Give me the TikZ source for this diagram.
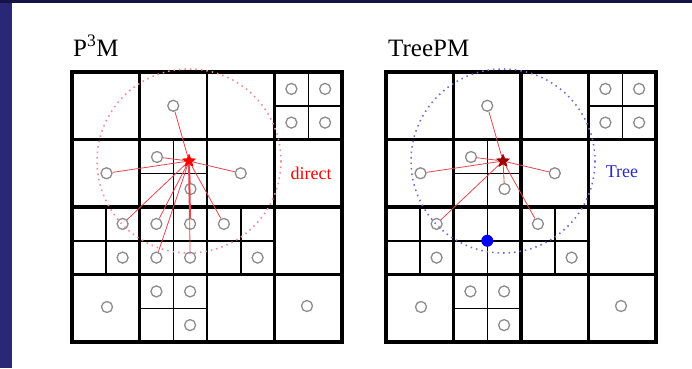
\documentclass[tikz,border=0pt]{standalone}
\usepackage{fontspec}
\setmainfont{Liberation Serif}
\usetikzlibrary{shapes.geometric}
\definecolor{bgblue}{RGB}{42,40,118}
\definecolor{topnavy}{RGB}{20,18,70}
\definecolor{partgray}{RGB}{140,140,140}
\definecolor{linkred}{RGB}{228,70,80}
\definecolor{cutred}{RGB}{240,140,150}
\definecolor{cutblue}{RGB}{110,110,215}
\definecolor{treeblue}{RGB}{40,40,200}
\tikzset{
 part/.style={circle, draw=partgray, line width=1.3pt, minimum size=11pt, inner sep=0pt},
 thingrid/.style={line width=1.5pt},
 midgrid/.style={line width=2.6pt},
 thickgrid/.style={line width=3.8pt},
 link/.style={linkred, line width=0.8pt},
 cutoff/.style={line width=1.6pt, dash pattern=on 1.5pt off 4pt},
 target/.style={star, star points=5, star point ratio=2.2, inner sep=0pt, minimum size=15pt},
 titletext/.style={font=\fontsize{25}{25}\selectfont, anchor=base west, inner sep=0pt},
 celltext/.style={font=\fontsize{18}{18}\selectfont, inner sep=0pt},
}
% #1 prefix, #2 x offset, #3 star colour, #4 cutoff colour, #5 style of middle vertical
\newcommand\drawpanel[5]{%
\begin{scope}[shift={(#2,72)}]
 \draw[thingrid] (202.5,33.75) -- (270,33.75) (236.25,0) -- (236.25,67.5)
   (67.5,101.25) -- (135,101.25) (101.25,67.5) -- (101.25,270)
   (0,168.75) -- (202.5,168.75) (33.75,135) -- (33.75,202.5)
   (168.75,135) -- (168.75,202.5) (67.5,236.25) -- (135,236.25);
 \draw[midgrid] (67.5,0) -- (67.5,270) (202.5,0) -- (202.5,270)
   (0,67.5) -- (270,67.5) (0,202.5) -- (270,202.5);
 \draw[#5] (135,0) -- (135,270);
 \draw[thickgrid] (0,135) -- (270,135);
 \draw[thickgrid, line join=miter] (0,0) rectangle (270,270);
 \node[part] (#1a) at (101.25,33.75) {};
 \node[part] (#1b1) at (219.4,16.9) {};
 \node[part] (#1b2) at (253.1,16.9) {};
 \node[part] (#1b3) at (219.4,50.6) {};
 \node[part] (#1b4) at (253.1,50.6) {};
 \node[part] (#1c) at (34.5,101.25) {};
 \node[part] (#1d) at (85,85) {};
 \node[target, fill=#3] (#1s) at (117,89) {};
 \node[part] (#1e) at (118.5,117) {};
 \node[part] (#1f) at (168.75,101.25) {};
 \node[part] (#1g1) at (50.6,151.9) {};
 \node[part] (#1g2) at (50.6,185.6) {};
 \node[part] (#1h1) at (151.9,151.9) {};
 \node[part] (#1h2) at (185.6,185.6) {};
 \node[part] (#1i) at (35,235) {};
 \node[part] (#1j1) at (84.4,219.4) {};
 \node[part] (#1j2) at (118.1,219.4) {};
 \node[part] (#1j3) at (118.1,253.1) {};
 \node[part] (#1k) at (235,234) {};
 \draw[cutoff, #4] (#1s.center) circle[radius=92];
 \draw[link] (#1s) -- (#1a);
 \draw[link] (#1s) -- (#1c);
 \draw[link] (#1s) -- (#1d);
 \draw[link] (#1s) -- (#1e);
 \draw[link] (#1s) -- (#1f);
 \draw[link] (#1s) -- (#1g1);
 \draw[link] (#1s) -- (#1h1);
\end{scope}}
\begin{document}
\begin{tikzpicture}[x=1pt, y=-1pt]
\useasboundingbox (0,0) rectangle (692,368);
\fill[bgblue] (0,0) rectangle (692,368);
\fill[topnavy] (0,0) rectangle (692,3);
\fill[white] (12,3) rectangle (692,368);
\node[titletext] (t1) at (73,56) {P\textsuperscript{3}M};
\node[titletext] (t2) at (388,56) {TreePM};
\drawpanel{L}{72}{red}{cutred}{midgrid}
\drawpanel{R}{386}{red!60!black}{cutblue}{thickgrid}
\begin{scope}[shift={(72,72)}]
 \node[part] (Lm1) at (84.4,151.9) {};
 \node[part] (Lm2) at (118.1,151.9) {};
 \node[part] (Lm3) at (84.4,185.6) {};
 \node[part] (Lm4) at (118.1,185.6) {};
 \node[celltext, text=red] (ldirect) at (239,101) {direct};
\end{scope}
\draw[link] (Ls) -- (Lm1);
\draw[link, line width=2pt] (Ls) -- (Lm2);
\draw[link] (Ls) -- (Lm3);
\draw[link] (Ls) -- (Lm4);
\begin{scope}[shift={(386,72)}]
 \node[circle, fill=blue, minimum size=12pt, inner sep=0pt] (Rn) at (101.25,168.75) {};
 \node[celltext, text=treeblue] (rtree) at (236,100) {Tree};
\end{scope}
\end{tikzpicture}
\end{document}
